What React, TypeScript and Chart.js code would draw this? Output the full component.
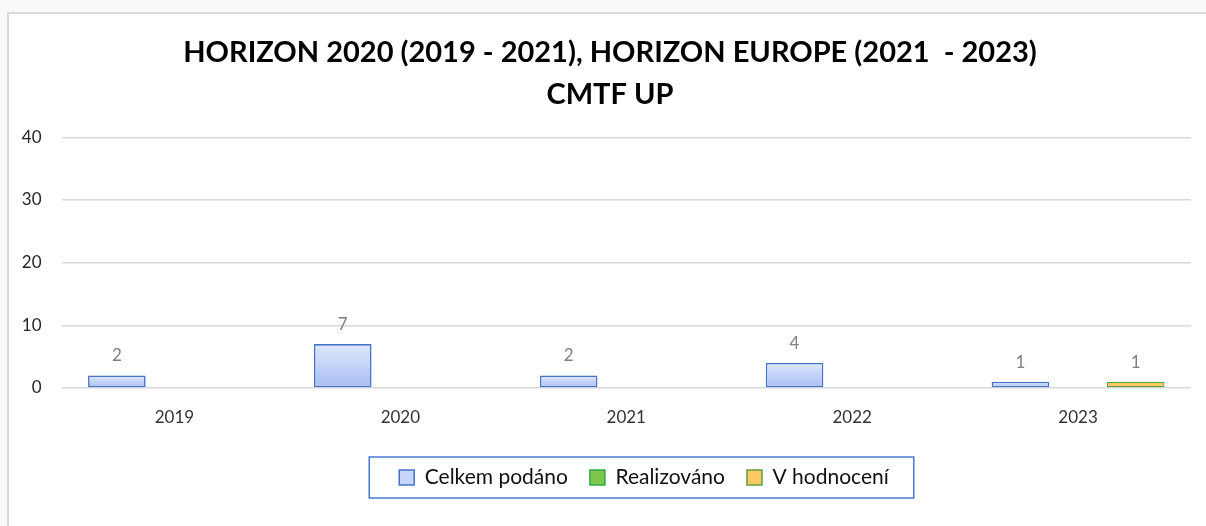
import React, { useEffect, useRef } from "react";
import { Chart, registerables } from "chart.js";

Chart.register(...registerables);

const categories = ["2019", "2020", "2021", "2022", "2023"];
const seriesNames = ["Celkem podáno", "Realizováno", "V hodnocení"];
const celkemPodano: (number | null)[] = [2, 7, 2, 4, 1];
const realizovano: (number | null)[] = [null, null, null, null, null];
const vHodnoceni: (number | null)[] = [null, null, null, null, 1];
const titleLines = ["HORIZON 2020 (2019 - 2021), HORIZON EUROPE (2021  - 2023)", "CMTF UP"];
const yTicksMax = 40;
const yTicksStep = 10;

const FONT = "Lato, 'Liberation Sans', sans-serif";
const legendFill = ["#c6d6f8", "#7fc74b", "#fdc964"];
const legendStroke = ["#4672c8", "#2fa84a", "#5e9e3c"];

const dataLabelPlugin = {
  id: "dataLabels",
  afterDatasetsDraw(chart: any) {
    const { ctx } = chart;
    ctx.save();
    ctx.font = `17px ${FONT}`;
    ctx.fillStyle = "#7f7f7f";
    ctx.textAlign = "center";
    ctx.textBaseline = "bottom";
    chart.data.datasets.forEach((ds: any, di: number) => {
      const meta = chart.getDatasetMeta(di);
      meta.data.forEach((el: any, i: number) => {
        const v = ds.data[i];
        if (v == null) return;
        ctx.fillText(String(v), el.x, el.y - 11);
      });
    });
    ctx.restore();
  },
};

const shiftPlugin = {
  id: "legendShift",
  afterLayout(chart: any) {
    const lg = chart.legend;
    if (lg) {
      const dx = 44;
      lg.left += dx;
      lg.right += dx;
    }
    const tb = chart.titleBlock;
    if (tb) {
      const tdx = 10;
      tb.left += tdx;
      tb.right += tdx;
    }
  },
  afterDraw(chart: any) {
    const lg = chart.legend;
    if (!lg || !lg.legendHitBoxes || !lg.legendHitBoxes.length) return;
    const hb = lg.legendHitBoxes;
    let minL = Infinity, maxR = -Infinity, cy = 0;
    hb.forEach((h: any) => {
      minL = Math.min(minL, h.left);
      maxR = Math.max(maxR, h.left + h.width);
      cy = h.top + h.height / 2;
    });
    const { ctx } = chart;
    ctx.save();
    ctx.strokeStyle = "#4a78d0";
    ctx.lineWidth = 1.5;
    ctx.strokeRect(minL - 30, cy - 20.5, maxR - minL + 55, 41);
    ctx.restore();
  },
};

function blueGradient(ctx: any) {
  const chart = ctx.chart;
  const y = chart.scales && chart.scales.y;
  if (!y || ctx.type !== "data" || ctx.raw == null) return legendFill[0];
  const top = y.getPixelForValue(ctx.raw);
  const bottom = y.getPixelForValue(0);
  if (!isFinite(top) || !isFinite(bottom)) return legendFill[0];
  const g = chart.ctx.createLinearGradient(0, top, 0, bottom === top ? top + 1 : bottom);
  g.addColorStop(0, "#dfe7fc");
  g.addColorStop(1, "#a6bef3");
  return g;
}

export default function App() {
  const ref = useRef<HTMLCanvasElement>(null);
  useEffect(() => {
    if (!ref.current) return;
    const chart = new Chart(ref.current, {
      type: "bar",
      data: {
        labels: categories,
        datasets: [
          {
            label: seriesNames[0],
            data: celkemPodano,
            backgroundColor: blueGradient as any,
            borderColor: legendStroke[0],
            borderWidth: 1.6,
            borderSkipped: false,
          },
          {
            label: seriesNames[1],
            data: realizovano,
            backgroundColor: legendFill[1],
            borderColor: legendStroke[1],
            borderWidth: 1.5,
            borderSkipped: false,
          },
          {
            label: seriesNames[2],
            data: vHodnoceni,
            backgroundColor: legendFill[2],
            borderColor: legendStroke[2],
            borderWidth: 1.3,
            borderSkipped: false,
          },
        ],
      },
      options: {
        responsive: false,
        animation: false,
        events: [],
        layout: { padding: { left: 0, right: 15, top: 0, bottom: 28 } },
        datasets: { bar: { categoryPercentage: 0.765, barPercentage: 1 } },
        plugins: {
          tooltip: { enabled: false },
          title: {
            display: true,
            text: titleLines,
            color: "#000",
            font: { family: FONT, size: 29, weight: "bold", lineHeight: "42.5px" },
            padding: { top: 17.25, bottom: 21 },
          },
          legend: {
            display: true,
            position: "bottom",
            labels: {
              boxWidth: 15,
              boxHeight: 15,
              padding: 22,
              color: "#111",
              font: { family: FONT, size: 21 },
              generateLabels: (c: any) =>
                c.data.datasets.map((ds: any, i: number) => ({
                  text: ds.label,
                  fillStyle: legendFill[i],
                  strokeStyle: legendStroke[i],
                  lineWidth: 1.5,
                  hidden: false,
                  datasetIndex: i,
                  fontColor: "#111",
                })),
            },
          },
        },
        scales: {
          x: {
            grid: { display: false, drawTicks: false },
            border: { display: false },
            ticks: { color: "#333", font: { family: FONT, size: 17 }, padding: 19 },
            afterFit: (axis: any) => {
              axis.height = 57;
            },
          },
          y: {
            min: 0,
            max: yTicksMax,
            grid: { color: "#d9d9d9", lineWidth: 1.5, drawTicks: false },
            border: { display: false },
            ticks: {
              stepSize: yTicksStep,
              color: "#262626",
              font: { family: FONT, size: 17 },
              padding: 20,
            },
            afterFit: (axis: any) => {
              axis.width = 52.5;
            },
          },
        },
      },
      plugins: [dataLabelPlugin, shiftPlugin],
    });
    return () => chart.destroy();
  }, []);

  return (
    <div style={{ position: "fixed", inset: 0, background: "#fbfaf9", overflow: "hidden" }}>
      <div
        style={{
          position: "absolute",
          left: 7,
          top: 12,
          width: 1260,
          height: 580,
          borderLeft: "2px solid #dadada",
          borderTop: "2px solid #dadada",
          background: "#fff",
        }}
      >
        <canvas ref={ref} width={1197} height={512} style={{ display: "block", width: 1197, height: 512 }} />
      </div>
    </div>
  );
}
